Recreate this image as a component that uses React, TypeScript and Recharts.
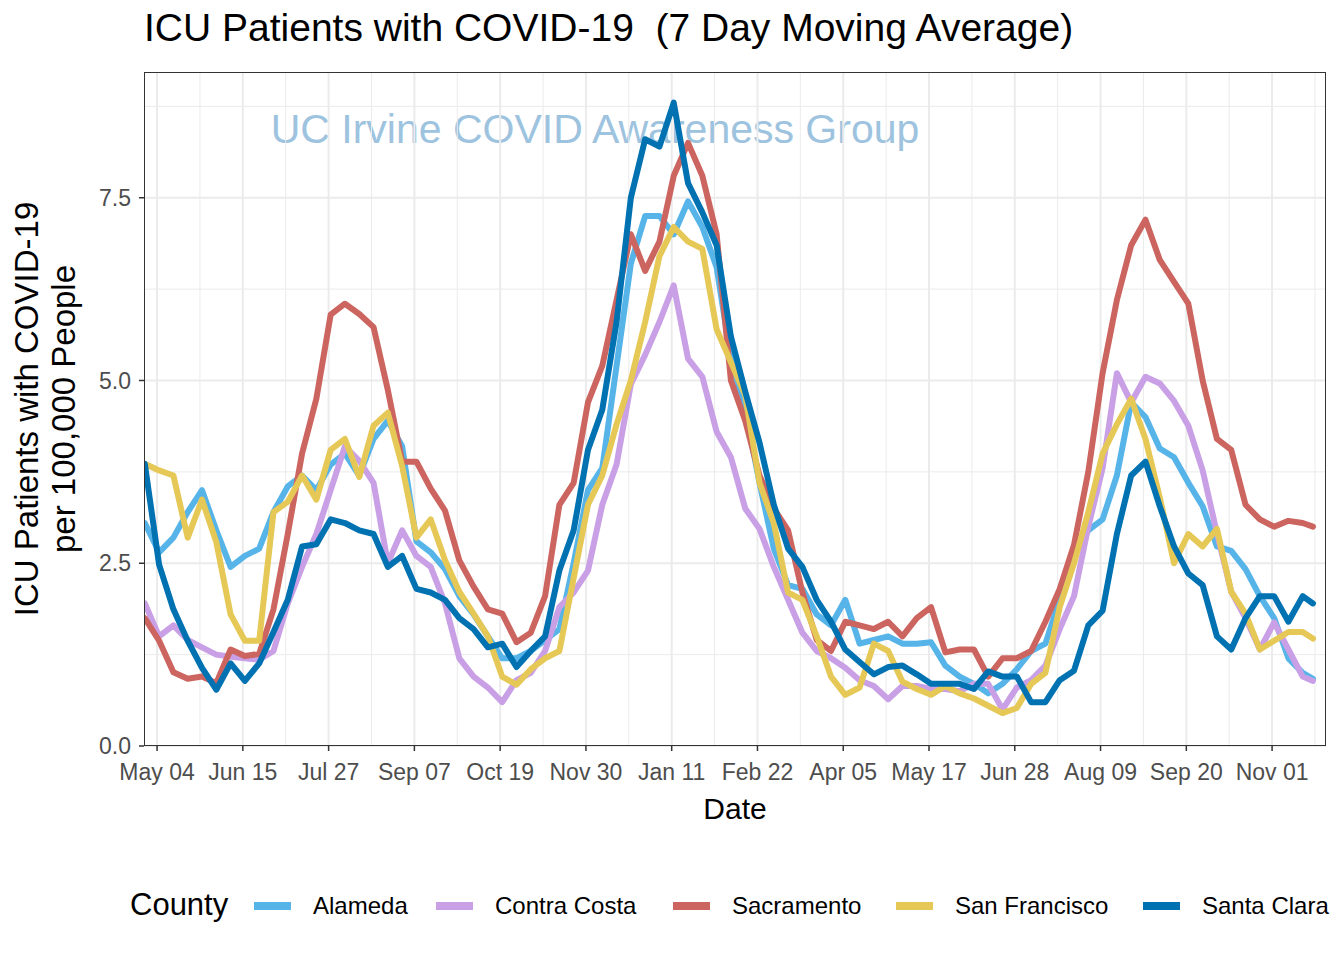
import { LineChart, Line, XAxis, YAxis, CartesianGrid } from "recharts";

// weekly readings, Apr 2020 – Nov 2021 (7 day moving average, per 100k)
const dates = [
  "2020-04-28", "2020-05-05", "2020-05-12", "2020-05-19", "2020-05-26", "2020-06-02", "2020-06-09", "2020-06-16",
  "2020-06-23", "2020-06-30", "2020-07-07", "2020-07-14", "2020-07-21", "2020-07-28", "2020-08-04", "2020-08-11",
  "2020-08-18", "2020-08-25", "2020-09-01", "2020-09-08", "2020-09-15", "2020-09-22", "2020-09-29", "2020-10-06",
  "2020-10-13", "2020-10-20", "2020-10-27", "2020-11-03", "2020-11-10", "2020-11-17", "2020-11-24", "2020-12-01",
  "2020-12-08", "2020-12-15", "2020-12-22", "2020-12-29", "2021-01-05", "2021-01-12", "2021-01-19", "2021-01-26",
  "2021-02-02", "2021-02-09", "2021-02-16", "2021-02-23", "2021-03-02", "2021-03-09", "2021-03-16", "2021-03-23",
  "2021-03-30", "2021-04-06", "2021-04-13", "2021-04-20", "2021-04-27", "2021-05-04", "2021-05-11", "2021-05-18",
  "2021-05-25", "2021-06-01", "2021-06-08", "2021-06-15", "2021-06-22", "2021-06-29", "2021-07-06", "2021-07-13",
  "2021-07-20", "2021-07-27", "2021-08-03", "2021-08-10", "2021-08-17", "2021-08-24", "2021-08-31", "2021-09-07",
  "2021-09-14", "2021-09-21", "2021-09-28", "2021-10-05", "2021-10-12", "2021-10-19", "2021-10-26", "2021-11-02",
  "2021-11-09", "2021-11-16", "2021-11-21",
];

const alameda = [
  3.05, 2.65, 2.85, 3.2, 3.5, 2.95, 2.45, 2.6, 2.7, 3.2,
  3.55, 3.7, 3.5, 3.85, 4.0, 3.7, 4.2, 4.45, 4.1, 2.8,
  2.65, 2.42, 2.05, 1.8, 1.5, 1.2, 1.2, 1.3, 1.45, 1.6,
  2.5, 3.5, 3.8, 5.2, 6.6, 7.25, 7.25, 7.0, 7.45, 7.1,
  6.55, 5.3, 4.6, 3.6, 2.7, 2.2, 2.15, 1.8, 1.65, 2.0,
  1.4, 1.45, 1.5, 1.4, 1.4, 1.42, 1.1, 0.95, 0.85, 0.72,
  0.85, 1.05, 1.3, 1.4, 2.0, 2.6, 2.95, 3.1, 3.7, 4.7,
  4.5, 4.07, 3.95, 3.6, 3.28, 2.73, 2.67, 2.42, 2.05, 1.75,
  1.2, 1.0, 0.92,
];

const contraCosta = [
  1.95, 1.5, 1.65, 1.45, 1.35, 1.25, 1.22, 1.2, 1.18, 1.3,
  1.95, 2.45, 2.9, 3.5, 4.1, 3.9, 3.6, 2.5, 2.95, 2.6,
  2.45, 1.95, 1.2, 0.95, 0.8, 0.6, 0.9, 1.0, 1.3, 1.9,
  2.1, 2.4, 3.3, 3.85, 4.95, 5.35, 5.8, 6.3, 5.3, 5.05,
  4.3, 3.95, 3.25, 2.97, 2.45, 2.0, 1.55, 1.3, 1.2, 1.07,
  0.9, 0.82, 0.64, 0.82, 0.82, 0.78, 0.78, 0.75, 0.85, 0.85,
  0.5, 0.8, 0.9, 1.1, 1.6, 2.05, 3.0, 3.8, 5.1, 4.7,
  5.05, 4.96, 4.72, 4.38, 3.77, 2.91, 2.11, 1.75, 1.32, 1.69,
  1.32, 0.95, 0.89,
];

const sacramento = [
  1.75, 1.44, 1.01, 0.92, 0.95, 0.86, 1.32, 1.23, 1.26, 1.87,
  2.9, 4.0, 4.75, 5.9, 6.05, 5.91, 5.73, 4.87, 3.89, 3.89,
  3.52, 3.22, 2.54, 2.18, 1.87, 1.81, 1.42, 1.55, 2.05, 3.3,
  3.6, 4.7, 5.2, 6.1, 7.0, 6.5, 6.9, 7.8, 8.25, 7.8,
  7.0, 5.0, 4.45, 3.7, 3.25, 2.95, 2.1, 1.45, 1.3, 1.7,
  1.65, 1.6, 1.7, 1.5, 1.75, 1.9, 1.28, 1.32, 1.32, 0.95,
  1.2, 1.2, 1.3, 1.7, 2.15, 2.75, 3.75, 5.1, 6.1, 6.85,
  7.2, 6.65, 6.35, 6.05, 5.0, 4.2, 4.05, 3.3, 3.1, 3.0,
  3.08, 3.05, 3.0,
];

const sanFrancisco = [
  3.86, 3.77, 3.7, 2.85, 3.37, 2.79, 1.8, 1.44, 1.44, 3.2,
  3.34, 3.7, 3.37, 4.05, 4.2, 3.68, 4.38, 4.56, 3.83, 2.85,
  3.1, 2.54, 2.11, 1.81, 1.5, 0.95, 0.84, 1.05, 1.2, 1.3,
  2.3, 3.3, 3.7, 4.4, 5.0, 5.8, 6.7, 7.1, 6.9, 6.8,
  5.7, 5.25, 4.8, 3.6, 3.05, 2.1, 2.0, 1.5, 0.95, 0.7,
  0.8, 1.4, 1.3, 0.88, 0.78, 0.7, 0.82, 0.72, 0.65, 0.55,
  0.45, 0.52, 0.85, 1.0, 1.9, 2.5, 3.2, 4.0, 4.4, 4.75,
  4.2, 3.4, 2.5, 2.9, 2.73, 2.97, 2.11, 1.81, 1.32, 1.44,
  1.56, 1.56, 1.47,
];

const santaClara = [
  3.86, 2.48, 1.87, 1.44, 1.07, 0.77, 1.13, 0.89, 1.13, 1.56,
  2.0, 2.73, 2.76, 3.1, 3.05, 2.95, 2.9, 2.45, 2.6, 2.15,
  2.1, 2.0, 1.75, 1.6, 1.35, 1.4, 1.08, 1.3, 1.5, 2.4,
  2.95, 4.05, 4.6, 5.8, 7.5, 8.3, 8.2, 8.8, 7.7, 7.3,
  6.85, 5.6, 4.85, 4.15, 3.3, 2.7, 2.45, 2.0, 1.7, 1.32,
  1.15, 0.98, 1.08, 1.1, 0.98, 0.85, 0.85, 0.85, 0.78, 1.02,
  0.95, 0.95, 0.6, 0.6, 0.9, 1.03, 1.65, 1.85, 2.9, 3.7,
  3.89, 3.28, 2.73, 2.36, 2.2, 1.5, 1.32, 1.75, 2.05, 2.05,
  1.7, 2.05, 1.95,
];

// x ticks are days since 2020-05-04, every 6 weeks
const tickDays = [0, 42, 84, 126, 168, 210, 252, 294, 336, 378, 420, 462, 504, 546];
const tickLabels = [
  "May 04", "Jun 15", "Jul 27", "Sep 07", "Oct 19", "Nov 30", "Jan 11",
  "Feb 22", "Apr 05", "May 17", "Jun 28", "Aug 09", "Sep 20", "Nov 01",
];
const minorDays = [21, 63, 105, 147, 189, 231, 273, 315, 357, 399, 441, 483, 525, 567];
const yTicks = [0, 2.5, 5, 7.5];
const yMinor = [1.25, 3.75, 6.25, 8.75];

const counties = [
  { key: "alameda", name: "Alameda", color: "#56B4E9", values: alameda },
  { key: "contraCosta", name: "Contra Costa", color: "#C9A0E6", values: contraCosta },
  { key: "sacramento", name: "Sacramento", color: "#CC6560", values: sacramento },
  { key: "sanFrancisco", name: "San Francisco", color: "#E6C857", values: sanFrancisco },
  { key: "santaClara", name: "Santa Clara", color: "#0072B2", values: santaClara },
];

const ORIGIN = Date.parse("2020-05-04");
const rows = dates.map((d, i) => {
  const row: Record<string, number> = { day: (Date.parse(d) - ORIGIN) / 86400000 };
  counties.forEach((c) => (row[c.key] = c.values[i]));
  return row;
});

const FONT = '"Liberation Sans", Arial, Helvetica, sans-serif';
const legendLeft = [254, 436, 673, 896, 1143];

export default function App() {
  return (
    <div style={{ position: "absolute", left: 0, top: 0, width: 1344, height: 960, background: "#fff", fontFamily: FONT }}>
      <div style={{ position: "absolute", left: 144, top: 6, fontSize: 39, color: "#000", whiteSpace: "nowrap" }}>
        ICU Patients with COVID-19&nbsp; (7 Day Moving Average)
      </div>

      {/* watermark sits under the lines */}
      <div style={{ position: "absolute", left: 195, width: 800, top: 106, textAlign: "center", fontSize: 41, color: "#9DC3DF", whiteSpace: "nowrap" }}>
        UC Irvine COVID Awareness Group
      </div>

      <div style={{ position: "absolute", left: 0, top: 0 }}>
        <LineChart width={1344} height={960} data={rows} margin={{ top: 72, right: 18, bottom: 174, left: 84 }}>
          <CartesianGrid stroke="#EBEBEB" strokeWidth={1} verticalValues={minorDays} horizontalValues={yMinor} />
          <CartesianGrid stroke="#EBEBEB" strokeWidth={2} verticalValues={tickDays} horizontalValues={yTicks} />
          <XAxis
            type="number"
            dataKey="day"
            domain={[-6.4, 572.4]}
            allowDataOverflow
            ticks={tickDays}
            interval={0}
            tickFormatter={(v: number) => tickLabels[tickDays.indexOf(v)]}
            axisLine={false}
            tickLine={{ stroke: "#333", strokeWidth: 1.5 }}
            tickSize={5}
            tickMargin={13}
            tick={{ fill: "#4D4D4D", fontSize: 23, fontFamily: FONT }}
            height={40}
          />
          <YAxis
            type="number"
            domain={[0, 9.22]}
            allowDataOverflow
            ticks={yTicks}
            interval={0}
            tickFormatter={(v: number) => v.toFixed(1)}
            axisLine={false}
            tickLine={{ stroke: "#333", strokeWidth: 1.5 }}
            tickSize={5}
            tickMargin={8}
            tick={{ fill: "#4D4D4D", fontSize: 23, fontFamily: FONT }}
            width={60}
          />
          {counties.map((c) => (
            <Line
              key={c.key}
              type="linear"
              dataKey={c.key}
              name={c.name}
              stroke={c.color}
              strokeWidth={6}
              strokeLinejoin="round"
              strokeLinecap="round"
              dot={false}
              isAnimationActive={false}
            />
          ))}
        </LineChart>
      </div>

      {/* panel border */}
      <div style={{ position: "absolute", left: 144, top: 72, width: 1182, height: 674, border: "1px solid #333", boxSizing: "border-box", pointerEvents: "none" }} />

      {/* y axis title */}
      <div
        style={{
          position: "absolute", left: 48 - 300, top: 409 - 40, width: 600, height: 80,
          transform: "rotate(-90deg)", textAlign: "center", fontSize: 33, lineHeight: "37px", color: "#000",
        }}
      >
        ICU Patients with COVID-19
        <br />
        per 100,000 People
      </div>

      <div style={{ position: "absolute", left: 635, width: 200, top: 792, textAlign: "center", fontSize: 30, color: "#000" }}>Date</div>

      {/* legend */}
      <div style={{ position: "absolute", left: 130, top: 887, fontSize: 31, color: "#000" }}>County</div>
      {counties.map((c, i) => (
        <div key={c.key} style={{ position: "absolute", left: legendLeft[i], top: 891, height: 30, display: "flex", alignItems: "center", fontSize: 24, color: "#000", whiteSpace: "nowrap" }}>
          <span style={{ display: "inline-block", width: 37, height: 8, background: c.color, marginRight: 22 }} />
          {c.name}
        </div>
      ))}
    </div>
  );
}
